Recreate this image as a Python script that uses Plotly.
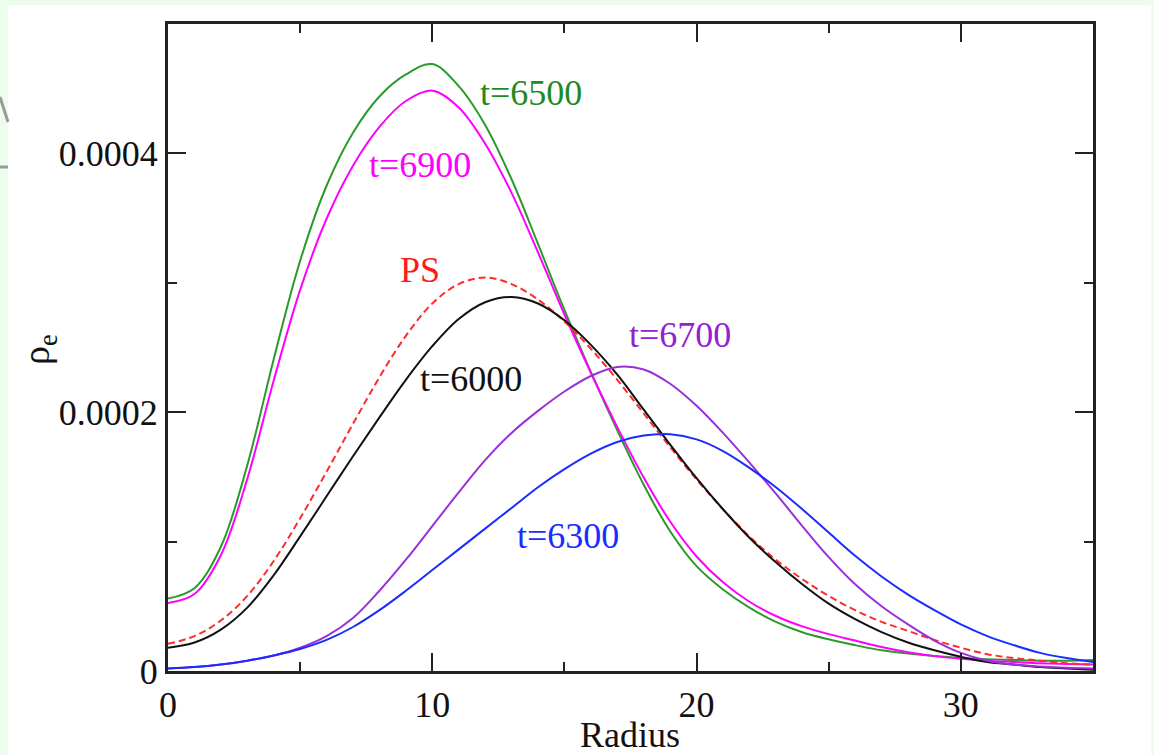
import plotly.graph_objects as go

# ---- data (rho_e in units of 1e-4) ----
radius = list(range(0, 36))

rho_6500 = [0.56, 0.64, 0.96, 1.59, 2.41, 3.17, 3.75, 4.16, 4.44, 4.61, 4.69, 4.52,
            4.22, 3.80, 3.30, 2.79, 2.31, 1.86, 1.44, 1.08, 0.81, 0.63, 0.49, 0.38,
            0.30, 0.245, 0.20, 0.16, 0.135, 0.115, 0.10, 0.09, 0.085, 0.08, 0.08, 0.085]
rho_6900 = [0.525, 0.595, 0.895, 1.485, 2.245, 2.945, 3.495, 3.905, 4.205, 4.405, 4.485, 4.355,
            4.075, 3.695, 3.235, 2.755, 2.305, 1.885, 1.495, 1.155, 0.885, 0.685, 0.535, 0.425,
            0.345, 0.285, 0.235, 0.185, 0.145, 0.115, 0.095, 0.08, 0.07, 0.06, 0.055, 0.05]
rho_ps = [0.21, 0.27, 0.39, 0.58, 0.85, 1.18, 1.54, 1.91, 2.27, 2.59, 2.84, 2.99,
          3.04, 2.99, 2.87, 2.70, 2.49, 2.25, 1.99, 1.73, 1.48, 1.25, 1.04, 0.86,
          0.71, 0.58, 0.47, 0.38, 0.31, 0.24, 0.18, 0.13, 0.10, 0.08, 0.06, 0.05]
rho_6000 = [0.18, 0.22, 0.32, 0.49, 0.74, 1.04, 1.35, 1.66, 1.96, 2.25, 2.51, 2.72,
            2.85, 2.89, 2.84, 2.71, 2.52, 2.29, 2.02, 1.75, 1.49, 1.25, 1.03, 0.84,
            0.67, 0.52, 0.40, 0.30, 0.22, 0.16, 0.11, 0.07, 0.05, 0.03, 0.02, 0.01]
rho_6700 = [0.02, 0.03, 0.05, 0.08, 0.12, 0.18, 0.27, 0.41, 0.62, 0.86, 1.12, 1.38,
            1.63, 1.84, 2.01, 2.16, 2.28, 2.35, 2.33, 2.22, 2.05, 1.84, 1.61, 1.37,
            1.12, 0.88, 0.67, 0.50, 0.36, 0.235, 0.14, 0.08, 0.05, 0.035, 0.025, 0.02]
rho_6300 = [0.02, 0.03, 0.05, 0.08, 0.12, 0.17, 0.24, 0.34, 0.47, 0.62, 0.78, 0.94,
            1.10, 1.26, 1.42, 1.56, 1.68, 1.77, 1.82, 1.83, 1.79, 1.70, 1.57, 1.42,
            1.25, 1.07, 0.89, 0.73, 0.59, 0.47, 0.36, 0.27, 0.20, 0.14, 0.10, 0.07]
UNIT = 1e-4

x_ticks = [0, 10, 20, 30]
x_ticklabels = ["0", "10", "20", "30"]
x_minor = [5, 15, 25]
y_ticks = [0, 0.0002, 0.0004]
y_ticklabels = ["0", "0.0002", "0.0004"]
y_minor = [0.0001, 0.0003]

series = [
    ("t=6500", rho_6500, "#2a9a2a", "solid"),
    ("t=6900", rho_6900, "#ff00ff", "solid"),
    ("PS", rho_ps, "#ff2a2a", "7px,4px"),
    ("t=6000", rho_6000, "#111111", "solid"),
    ("t=6700", rho_6700, "#9b30d9", "solid"),
    ("t=6300", rho_6300, "#1a2cff", "solid"),
]

labels = [
    ("t=6500", 13.73, 4.47, "#1f8a1f"),
    ("t=6900", 9.53, 3.91, "#ff00ff"),
    ("PS", 9.53, 3.10, "#ff1a1a"),
    ("t=6000", 11.46, 2.26, "#111111"),
    ("t=6700", 19.37, 2.60, "#9420d4"),
    ("t=6300", 15.13, 1.04, "#1a2cff"),
]

FONT = "Liberation Serif, Times New Roman, serif"

fig = go.Figure()
for name, vals, col, dash in series:
    fig.add_trace(go.Scatter(
        x=radius, y=[v * UNIT for v in vals], mode="lines", name=name,
        line=dict(color=col, width=2, dash=dash, shape="spline", smoothing=1.0),
        showlegend=False))

for txt, xr, yv, col in labels:
    fig.add_annotation(x=xr, y=yv * UNIT, text=txt, showarrow=False,
                       font=dict(family=FONT, size=36, color=col),
                       xanchor="center", yanchor="middle")

L, R, T, B = 168, 61, 24, 84
W, H = 1154, 755
PW, PH = W - L - R, H - T - B


def px(xp):
    return (xp - L) / PW


def py(yp):
    return (H - B - yp) / PH


# axis titles
fig.add_annotation(xref="paper", yref="paper", x=px(630), y=py(735), text="Radius",
                   showarrow=False, font=dict(family=FONT, size=36, color="#111"),
                   xanchor="center", yanchor="middle")
fig.add_annotation(xref="paper", yref="paper", x=px(39), y=py(350), text="ρ<sub>e</sub>",
                   showarrow=False, textangle=-90,
                   font=dict(family=FONT, size=38, color="#111"),
                   xanchor="center", yanchor="middle")

# background frame (light green border + grey artifacts)
fig.add_shape(type="rect", xref="paper", yref="paper", x0=px(8), x1=px(1151),
              y0=py(755), y1=py(5), fillcolor="white", line=dict(width=0), layer="below")
fig.add_shape(type="line", xref="paper", yref="paper", x0=px(0), y0=py(97),
              x1=px(8), y1=py(122), line=dict(color="#9a9a9a", width=3), layer="below")
fig.add_shape(type="line", xref="paper", yref="paper", x0=px(0), y0=py(167),
              x1=px(8), y1=py(167), line=dict(color="#9a9a9a", width=3), layer="below")

axis_common = dict(
    showline=True, linewidth=3, linecolor="#222", mirror="allticks",
    ticks="inside", ticklen=18, tickwidth=2, tickcolor="#222",
    showgrid=False, zeroline=False,
    tickfont=dict(family=FONT, size=36, color="#111"),
)

fig.update_xaxes(range=[0, 35], tickmode="array", tickvals=x_ticks, ticktext=x_ticklabels,
                 minor=dict(tickmode="array", tickvals=x_minor, ticks="inside", ticklen=9,
                            tickwidth=2, tickcolor="#222", showgrid=False),
                 **axis_common)
fig.update_yaxes(range=[0, 0.0005], tickmode="array", tickvals=y_ticks, ticktext=y_ticklabels,
                 minor=dict(tickmode="array", tickvals=y_minor, ticks="inside", ticklen=9,
                            tickwidth=2, tickcolor="#222", showgrid=False),
                 **axis_common)

fig.update_layout(
    width=W, height=H,
    margin=dict(l=L, r=R, t=T, b=B),
    paper_bgcolor="#ecfdec", plot_bgcolor="white",
    font=dict(family=FONT),
)

fig.write_html("out.html")
